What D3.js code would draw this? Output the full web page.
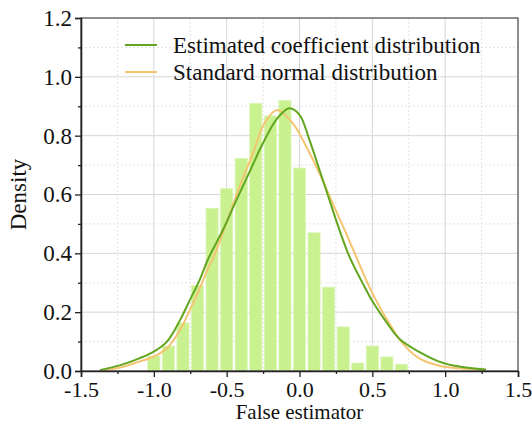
<!DOCTYPE html>
<html>
<head>
<meta charset="utf-8">
<script src="https://cdn.jsdelivr.net/npm/d3@7"></script>
<style>
  body { margin: 0; background: #fff; }
  text { font-family: "Liberation Serif", "Times New Roman", serif; fill: #111; }
</style>
</head>
<body>
<div id="chart"></div>
<script>
// Histogram bins (centre of bin, density)
const binCenters = [-1.0, -0.9, -0.8, -0.7, -0.6, -0.5, -0.4, -0.3, -0.2, -0.1, 0.0, 0.1, 0.2, 0.3, 0.4, 0.5, 0.6, 0.7];
const binDensity = [0.051, 0.085, 0.163, 0.29, 0.553, 0.62, 0.723, 0.91, 0.867, 0.92, 0.69, 0.47, 0.285, 0.15, 0.027, 0.085, 0.048, 0.023];
const binWidth = 0.1;

// Estimated coefficient distribution (green curve)
const estX = [-1.37, -1.23, -1.10, -1.0, -0.91, -0.82, -0.753, -0.685, -0.628, -0.525, -0.434, -0.342, -0.251, -0.16, -0.07, 0, 0.068, 0.137, 0.205, 0.274, 0.342, 0.434, 0.502, 0.594, 0.685, 0.822, 0.959, 1.096, 1.28];
const estY = [0.003, 0.02, 0.043, 0.066, 0.1, 0.173, 0.241, 0.31, 0.38, 0.48, 0.58, 0.678, 0.774, 0.854, 0.893, 0.871, 0.786, 0.684, 0.582, 0.48, 0.39, 0.298, 0.236, 0.168, 0.11, 0.065, 0.032, 0.015, 0.005];

// Standard normal distribution (orange curve)
const normX = [-1.37, -1.23, -1.10, -1.0, -0.91, -0.82, -0.753, -0.685, -0.628, -0.594, -0.502, -0.411, -0.32, -0.24, -0.155, -0.046, 0.046, 0.137, 0.228, 0.32, 0.388, 0.457, 0.525, 0.616, 0.708, 0.822, 0.959, 1.096, 1.28];
const normY = [0, 0.012, 0.032, 0.049, 0.077, 0.139, 0.207, 0.281, 0.349, 0.383, 0.502, 0.627, 0.74, 0.842, 0.887, 0.842, 0.763, 0.672, 0.57, 0.468, 0.39, 0.31, 0.241, 0.162, 0.094, 0.043, 0.018, 0.009, 0.003];

const xTicks = [-1.5, -1.0, -0.5, 0.0, 0.5, 1.0, 1.5];
const yTicks = [0.0, 0.2, 0.4, 0.6, 0.8, 1.0, 1.2];
const legendNames = ['Estimated coefficient distribution', 'Standard normal distribution'];

const WIDTH = 532, HEIGHT = 423;
const margin = { top: 18, right: 14, bottom: 52, left: 81 };
const w = WIDTH - margin.left - margin.right;
const h = HEIGHT - margin.top - margin.bottom;
const FONT = '23px';

const GREEN = '#62a61f';
const ORANGE = '#f4c471';

// plain hyphen instead of d3's unicode minus
const fmt = d => d.toFixed(1);

const svg = d3.select('#chart').append('svg')
    .attr('width', WIDTH)
    .attr('height', HEIGHT);

const g = svg.append('g').attr('transform', `translate(${margin.left},${margin.top})`);

const x = d3.scaleLinear().domain([-1.5, 1.5]).range([0, w]);
const y = d3.scaleLinear().domain([0, 1.2]).range([h, 0]);

// minor grid (dashed)
const xMinor = d3.range(-1.25, 1.5, 0.5);
const yMinor = d3.range(0.1, 1.2, 0.2);
g.selectAll('.gx-minor').data(xMinor).enter().append('line')
    .attr('x1', d => x(d)).attr('x2', d => x(d))
    .attr('y1', 0).attr('y2', h)
    .attr('stroke', '#e3e3e3').attr('stroke-dasharray', '2,2');
g.selectAll('.gy-minor').data(yMinor).enter().append('line')
    .attr('x1', 0).attr('x2', w)
    .attr('y1', d => y(d)).attr('y2', d => y(d))
    .attr('stroke', '#e3e3e3').attr('stroke-dasharray', '2,2');

// major grid
g.selectAll('.gx').data(xTicks.slice(1, -1)).enter().append('line')
    .attr('x1', d => x(d)).attr('x2', d => x(d))
    .attr('y1', 0).attr('y2', h)
    .attr('stroke', '#d6d6d6');
g.selectAll('.gy').data(yTicks.slice(1, -1)).enter().append('line')
    .attr('x1', 0).attr('x2', w)
    .attr('y1', d => y(d)).attr('y2', d => y(d))
    .attr('stroke', '#d6d6d6');

// bars
const barPx = x(binWidth) - x(0);
g.selectAll('rect.bar')
    .data(binCenters.map((c, i) => ({ c, v: binDensity[i] })))
    .enter().append('rect')
    .attr('class', 'bar')
    .attr('x', d => x(d.c) - barPx / 2 + 1.2)
    .attr('width', barPx - 2.4)
    .attr('y', d => y(d.v))
    .attr('height', d => h - y(d.v))
    .attr('fill', '#c9f18f')
    .attr('stroke', '#dcf5b8')
    .attr('stroke-width', 0.8);

// curves
const line = d3.line()
    .x(d => x(d[0]))
    .y(d => y(d[1]))
    .curve(d3.curveCatmullRom.alpha(0.5));

g.append('path')
    .datum(normX.map((v, i) => [v, normY[i]]))
    .attr('d', line)
    .attr('fill', 'none')
    .attr('stroke', ORANGE)
    .attr('stroke-width', 2);

g.append('path')
    .datum(estX.map((v, i) => [v, estY[i]]))
    .attr('d', line)
    .attr('fill', 'none')
    .attr('stroke', GREEN)
    .attr('stroke-width', 2);

// frame (top/right)
g.append('rect')
    .attr('width', w).attr('height', h)
    .attr('fill', 'none')
    .attr('stroke', '#444')
    .attr('stroke-width', 1.2);

// x axis
g.append('g').attr('class', 'x-axis').attr('transform', `translate(0,${h})`)
    .call(d3.axisBottom(x).tickValues(xTicks).tickFormat(fmt).tickSize(6).tickPadding(4));
g.append('g').attr('transform', `translate(0,${h})`)
    .call(d3.axisBottom(x).tickValues(xMinor).tickFormat('').tickSize(3))
    .call(s => s.select('.domain').remove());

// y axis
g.append('g')
    .call(d3.axisLeft(y).tickValues(yTicks).tickFormat(fmt).tickSize(6).tickPadding(3));
g.append('g')
    .call(d3.axisLeft(y).tickValues(yMinor).tickFormat('').tickSize(3))
    .call(s => s.select('.domain').remove());

svg.selectAll('.tick line').attr('stroke', '#222').attr('stroke-width', 1.3);
svg.selectAll('.domain').attr('stroke', '#222').attr('stroke-width', 1.6);
svg.selectAll('.tick text')
    .style('font-family', '"Liberation Serif", serif')
    .style('font-size', FONT)
    .attr('fill', '#111');
svg.selectAll('.x-axis .tick text').style('font-size', '22px');

// axis titles
svg.append('text')
    .attr('x', margin.left + x(0))
    .attr('y', 419)
    .attr('text-anchor', 'middle')
    .style('font-size', '21px')
    .text('False estimator');

svg.append('text')
    .attr('transform', `translate(26,${margin.top + y(0.6)}) rotate(-90)`)
    .attr('text-anchor', 'middle')
    .style('font-size', FONT)
    .text('Density');

// legend
const legend = g.append('g').attr('transform', 'translate(44,27)');
const legendColors = [GREEN, ORANGE];
legendNames.forEach((name, i) => {
    const row = legend.append('g').attr('transform', `translate(0,${i * 27})`);
    row.append('line')
        .attr('x1', 0).attr('x2', 32)
        .attr('stroke', legendColors[i])
        .attr('stroke-width', 2);
    row.append('text')
        .attr('x', 48)
        .attr('y', 8)
        .style('font-size', FONT)
        .text(name);
});
</script>
</body>
</html>
